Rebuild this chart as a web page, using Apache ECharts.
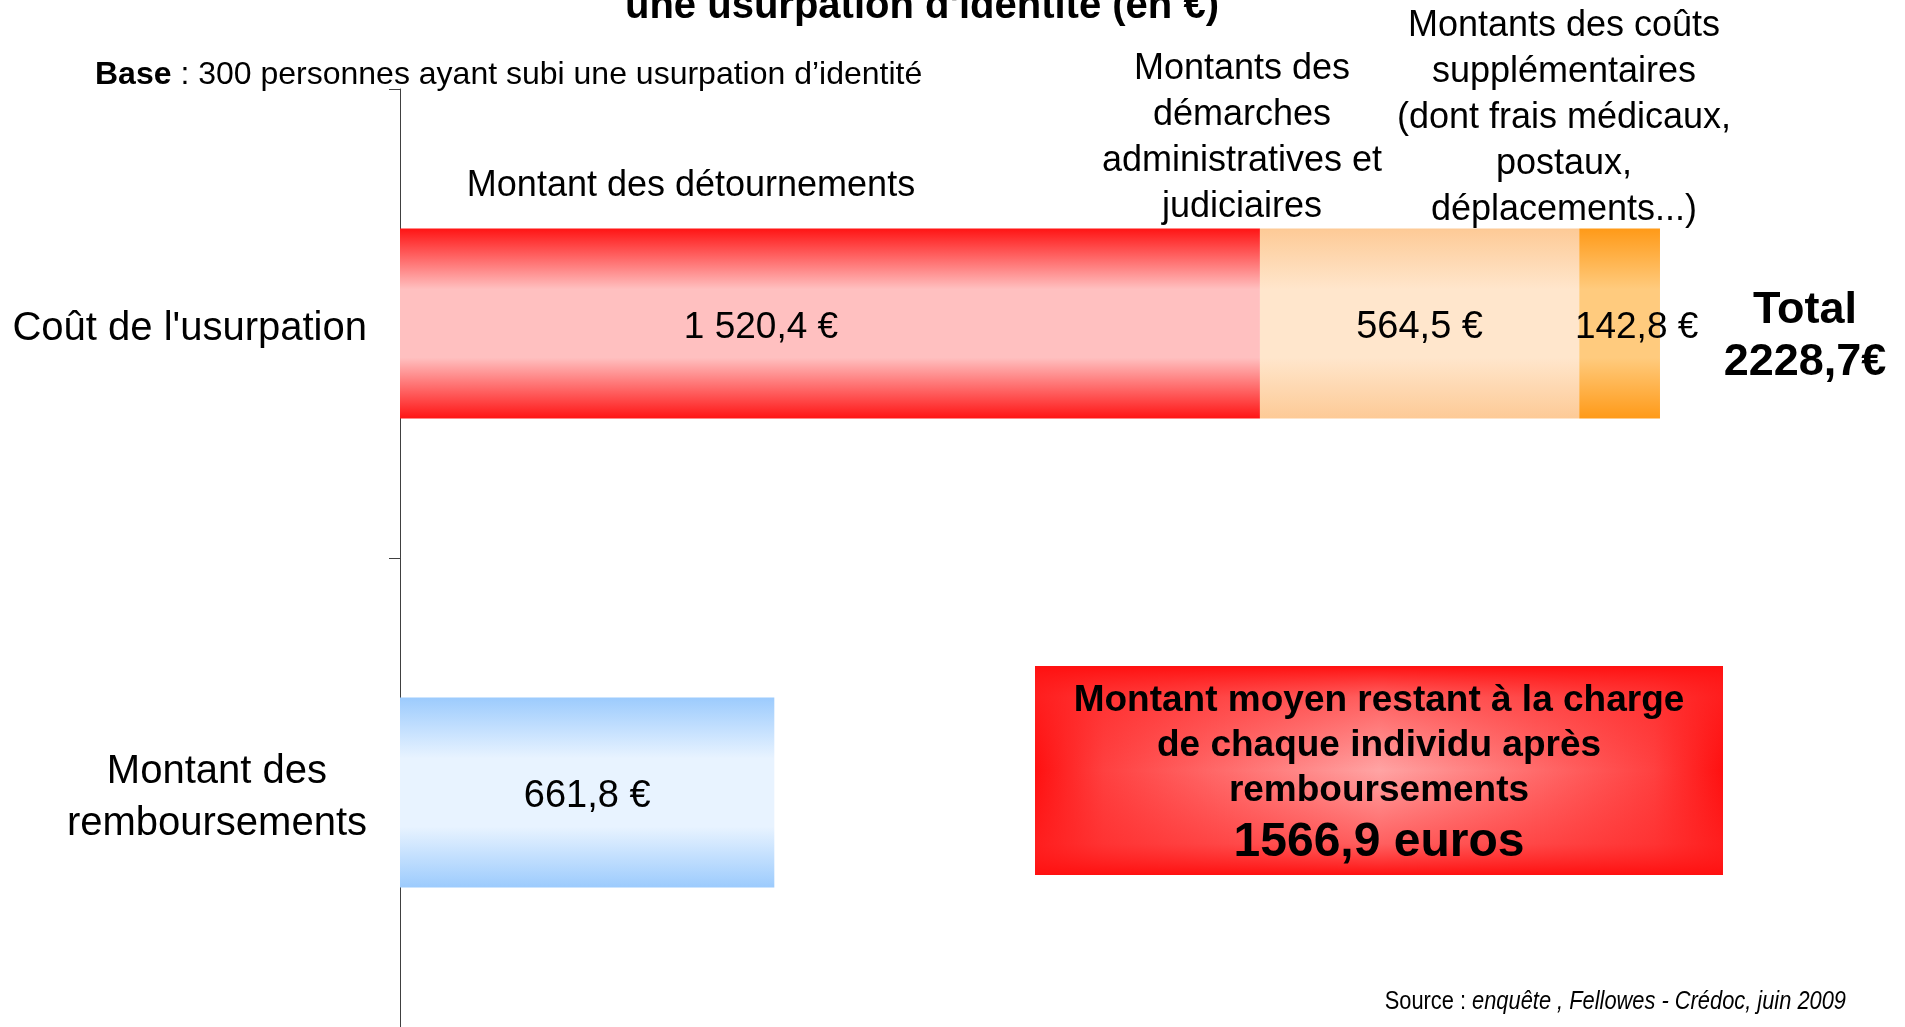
<!DOCTYPE html>
<html>
<head>
<meta charset="utf-8">
<title>Coût de l'usurpation d'identité</title>
<script src="https://cdn.jsdelivr.net/npm/echarts@6/dist/echarts.min.js"></script>
<style>
  html, body { margin: 0; padding: 0; background: #fff; }
  #chart { width: 1905px; height: 1027px; }
</style>
</head>
<body>
<div id="chart"></div>
<script>
// données
const categories = ["Coût de l'usurpation", 'Montant des\nremboursements'];
const detournements = [1520.4, '-'];
const demarches = [564.5, '-'];
const coutsSupp = [142.8, '-'];
const remboursements = ['-', 661.8];

const segmentNames = [
  'Montant des détournements',
  'Montants des\ndémarches\nadministratives et\njudiciaires',
  'Montants des coûts\nsupplémentaires\n(dont frais médicaux,\npostaux,\ndéplacements...)'
];
const totalText = 'Total\n2228,7€';
const resteLines = ['Montant moyen restant à la charge', 'de chaque individu après', 'remboursements'];
const resteValue = '1566,9 euros';

const FONT = "'Liberation Sans', Arial, Helvetica, sans-serif";

function euro(v) {
  const parts = Number(v).toFixed(1).split('.');
  const ent = parts[0].replace(/\B(?=(\d{3})+(?!\d))/g, ' ');
  return ent + ',' + parts[1] + ' €';
}

function vgrad(edge, mid) {
  return {
    type: 'linear', x: 0, y: 0, x2: 0, y2: 1,
    colorStops: [
      { offset: 0, color: edge },
      { offset: 0.32, color: mid },
      { offset: 0.5, color: mid },
      { offset: 0.68, color: mid },
      { offset: 1, color: edge }
    ]
  };
}

const labelBase = {
  show: true,
  position: 'inside',
  color: '#000',
  fontFamily: FONT,
  fontSize: 37,
  offset: [0, 4],
  formatter: p => euro(p.value)
};

const chart = echarts.init(document.getElementById('chart'));

chart.setOption({
  backgroundColor: '#fff',
  animation: false,
  title: {
    text: "une usurpation d'identité (en €)",
    left: 620,
    top: -18,
    textStyle: { fontFamily: FONT, fontSize: 40, fontWeight: 'bold', color: '#000' }
  },
  grid: { left: 400, right: 91, top: 89, bottom: 0, containLabel: false },
  xAxis: {
    type: 'value', min: 0, max: 2500, show: false
  },
  yAxis: {
    type: 'category',
    inverse: true,
    data: categories,
    axisLine: { show: true, lineStyle: { color: '#404040', width: 1 } },
    axisTick: { show: true, length: 11, lineStyle: { color: '#404040' } },
    axisLabel: {
      margin: 33,
      color: '#000',
      padding: [10, 0, 0, 0],
      formatter: v => v.split('\n').map(l => '{c|' + l + '}').join('\n'),
      rich: {
        c: { align: 'center', fontFamily: FONT, fontSize: 40, lineHeight: 52, color: '#000' }
      }
    }
  },
  series: [
    {
      name: segmentNames[0], type: 'bar', stack: 'cout', barWidth: '40.5%',
      data: detournements,
      itemStyle: { color: vgrad('#ff1414', '#ffc0c0') },
      label: Object.assign({}, labelBase, { offset: [-69, 4] })
    },
    {
      name: segmentNames[1], type: 'bar', stack: 'cout',
      data: demarches,
      itemStyle: { color: vgrad('#fdca96', '#ffe6cc') },
      label: Object.assign({}, labelBase, { fontSize: 38 })
    },
    {
      name: segmentNames[2], type: 'bar', stack: 'cout',
      data: coutsSupp,
      itemStyle: { color: vgrad('#ff9a18', '#ffcb7e') },
      label: Object.assign({}, labelBase, { offset: [17, 4] })
    },
    {
      name: 'Montant des remboursements', type: 'bar', stack: 'cout',
      data: remboursements,
      itemStyle: { color: vgrad('#9ccbfd', '#e8f3ff') },
      label: Object.assign({}, labelBase, { fontSize: 38 })
    }
  ],
  graphic: [
    {
      type: 'text', x: 95, y: 75,
      style: {
        text: '{b|Base}{r| : 300 personnes ayant subi une usurpation d’identité}',
        align: 'left', verticalAlign: 'middle',
        rich: {
          b: { fontFamily: FONT, fontSize: 32, fontWeight: 'bold', fill: '#000' },
          r: { fontFamily: FONT, fontSize: 32, fill: '#000' }
        }
      }
    },
    {
      type: 'text', x: 691, y: 186,
      style: { text: segmentNames[0], fontFamily: FONT, fontSize: 36, fill: '#000', align: 'center', verticalAlign: 'middle' }
    },
    {
      type: 'text', x: 1242, y: 138,
      style: { text: segmentNames[1], fontFamily: FONT, fontSize: 36, lineHeight: 46, fill: '#000', align: 'center', verticalAlign: 'middle' }
    },
    {
      type: 'text', x: 1564, y: 118,
      style: { text: segmentNames[2], fontFamily: FONT, fontSize: 36, lineHeight: 46, fill: '#000', align: 'center', verticalAlign: 'middle' }
    },
    {
      type: 'text', x: 1805, y: 337,
      style: { text: totalText, fontFamily: FONT, fontSize: 45, fontWeight: 'bold', lineHeight: 52, fill: '#000', align: 'center', verticalAlign: 'middle' }
    },
    {
      type: 'rect',
      shape: { x: 1035, y: 666, width: 688, height: 209 },
      style: {
        fill: {
          type: 'linear', x: 0, y: 0, x2: 1, y2: 0,
          colorStops: [
            { offset: 0, color: '#ff1010' },
            { offset: 0.1, color: '#ff4040' },
            { offset: 0.5, color: '#ffa4a4' },
            { offset: 0.9, color: '#ff4040' },
            { offset: 1, color: '#ff1010' }
          ]
        }
      }
    },
    {
      type: 'rect',
      shape: { x: 1035, y: 666, width: 688, height: 209 },
      style: {
        fill: {
          type: 'linear', x: 0, y: 0, x2: 0, y2: 1,
          colorStops: [
            { offset: 0, color: 'rgba(255,16,16,1)' },
            { offset: 0.15, color: 'rgba(255,40,40,0.55)' },
            { offset: 0.5, color: 'rgba(255,40,40,0)' },
            { offset: 0.85, color: 'rgba(255,40,40,0.55)' },
            { offset: 1, color: 'rgba(255,16,16,1)' }
          ]
        }
      }
    },
    {
      type: 'text', x: 1379, y: 678,
      style: {
        text: resteLines.map(l => '{a|' + l + '}').join('\n') + '\n{v|' + resteValue + '}',
        align: 'center', verticalAlign: 'top',
        rich: {
          a: { align: 'center', fontFamily: FONT, fontSize: 37, fontWeight: 'bold', lineHeight: 45, fill: '#000' },
          v: { align: 'center', fontFamily: FONT, fontSize: 48, fontWeight: 'bold', lineHeight: 59, fill: '#000' }
        }
      }
    },
    {
      type: 'text', x: 1846, y: 1002, scaleX: 0.84,
      style: {
        text: '{r|Source : }{i|enquête , Fellowes - Crédoc, juin 2009}',
        align: 'right', verticalAlign: 'middle',
        rich: {
          r: { fontFamily: FONT, fontSize: 26, fill: '#000' },
          i: { fontFamily: FONT, fontSize: 26, fontStyle: 'italic', fill: '#000' }
        }
      }
    }
  ]
});
</script>
</body>
</html>
